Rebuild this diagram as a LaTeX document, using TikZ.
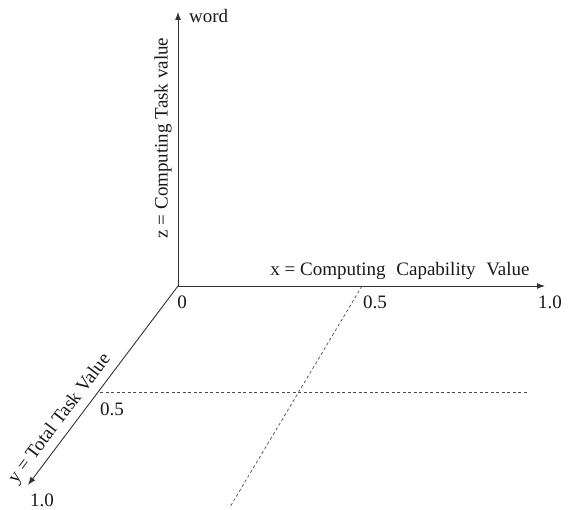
\documentclass[tikz,border=0pt]{standalone}
\usepackage{fontspec}
\setmainfont{Liberation Serif}
\usetikzlibrary{arrows.meta}
\begin{document}
\begin{tikzpicture}[x=1pt,y=-1pt,
  axis/.style={draw=black!80, line width=0.9pt, -{Latex[length=8pt,width=6pt]}},
  guide/.style={draw=black!70, line width=0.7pt, dash pattern=on 3pt off 2.5pt},
  lbl/.style={inner sep=0pt, font=\fontsize{19}{22}\selectfont, text=black!90}]
\useasboundingbox (0,0) rectangle (576,510);
\coordinate (O) at (178,286);
\coordinate (Z) at (178,12);
\coordinate (X) at (545,286);
\coordinate (Y) at (28,485);
\coordinate (A) at (100,392);
\coordinate (B) at (527,392);
\coordinate (C) at (362,286);
\coordinate (D) at (230,507);
\draw[axis] (O) -- (Z);
\draw[axis] (O) -- (X);
\draw[axis] (O) -- (Y);
\draw[guide] (A) -- (B);
\draw[guide] (C) -- (D);
\node[lbl, anchor=west] (word) at (189,16) {word};
\node[lbl, rotate=90] (zl) at (163,138) {z = Computing Task value};
\node[lbl] (xl) at (400,271) {x = Computing\hspace{6pt} Capability\hspace{6pt} Value};
\node[lbl, rotate=53] (yl) at (60,419) {y = Total Task Value};
\node[lbl] (o0) at (182,302) {0};
\node[lbl] (x05) at (375,302) {0.5};
\node[lbl] (x10) at (550,302) {1.0};
\node[lbl] (y05) at (112,409) {0.5};
\node[lbl] (y10) at (42,500) {1.0};
\end{tikzpicture}
\end{document}
